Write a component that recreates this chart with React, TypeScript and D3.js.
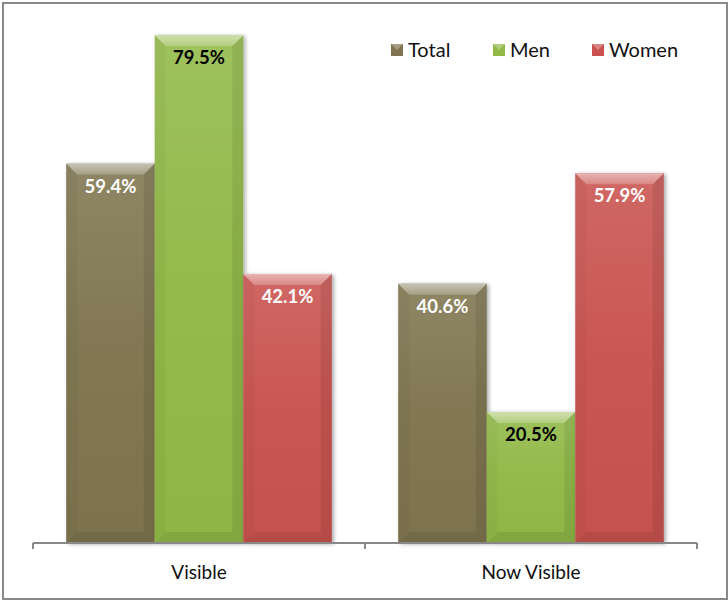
import React from "react";
import * as d3 from "d3";

const categories = ["Visible", "Now Visible"];
const seriesNames = ["Total", "Men", "Women"];
const totalValues = [59.4, 40.6];
const menValues = [79.5, 20.5];
const womenValues = [42.1, 57.9];
const seriesColors = ["#7f7450", "#91b946", "#c9524f"];
const labelColors = ["#ffffff", "#000000", "#ffffff"];

const W = 728;
const H = 600;
const FONT = "Lato, 'Open Sans', sans-serif";

export default function App() {
  const values = [totalValues, menValues, womenValues];
  const x0 = d3.scaleBand<string>().domain(categories).range([33, 697]).paddingInner(0).paddingOuter(0);
  const x1 = d3.scaleBand<string>().domain(seriesNames).range([0, x0.bandwidth()]).paddingOuter(0.375).paddingInner(0);
  const y = d3.scaleLinear().domain([0, 80]).range([543, 32]);
  const b = 11;

  return (
    <svg width={W} height={H} style={{ position: "absolute", left: 0, top: 0 }}>
      <defs>
        <filter id="sh" x="-20%" y="-20%" width="150%" height="150%">
          <feGaussianBlur in="SourceAlpha" stdDeviation="2" />
          <feOffset dx="2" dy="1" result="ob" />
          <feComponentTransfer><feFuncA type="linear" slope="0.35" /></feComponentTransfer>
          <feMerge><feMergeNode /><feMergeNode in="SourceGraphic" /></feMerge>
        </filter>
        <linearGradient id="topg" x1="0" y1="0" x2="0" y2="1">
          <stop offset="0" stopColor="#fff" stopOpacity="0.5" />
          <stop offset="1" stopColor="#fff" stopOpacity="0.22" />
        </linearGradient>
        <linearGradient id="faceg" x1="0" y1="0" x2="0" y2="1">
          <stop offset="0" stopColor="#fff" stopOpacity="0.12" />
          <stop offset="0.5" stopColor="#fff" stopOpacity="0.02" />
          <stop offset="1" stopColor="#000" stopOpacity="0.02" />
        </linearGradient>
      </defs>
      <rect x={0} y={0} width={W} height={H} fill="#fff" />
      <rect x={3} y={3} width={W - 4} height={H - 4} fill="none" stroke="#888" strokeWidth={2} />
      {categories.map((c, ci) => (
        <g key={c}>
          {seriesNames.map((s, si) => {
            const v = values[si][ci];
            const bx = (x0(c) as number) + (x1(s) as number);
            const bw = x1.bandwidth();
            const by = y(v);
            const by1 = y(0);
            return (
              <g key={s}>
                <rect x={bx} y={by} width={bw} height={by1 - by} fill={seriesColors[si]} filter="url(#sh)" />
                <rect x={bx} y={by} width={bw} height={by1 - by} fill="url(#faceg)" />
                <polygon points={`${bx},${by} ${bx + bw},${by} ${bx + bw - b},${by + b} ${bx + b},${by + b}`} fill="url(#topg)" />
                <polygon points={`${bx},${by} ${bx + b},${by + b} ${bx + b},${by1 - b} ${bx},${by1}`} fill="#000" fillOpacity={0.03} />
                <polygon points={`${bx + bw},${by} ${bx + bw - b},${by + b} ${bx + bw - b},${by1 - b} ${bx + bw},${by1}`} fill="#000" fillOpacity={0.08} />
                <polygon points={`${bx},${by1} ${bx + b},${by1 - b} ${bx + bw - b},${by1 - b} ${bx + bw},${by1}`} fill="#000" fillOpacity={0.08} />
                <text x={bx + bw / 2} y={by + 29} textAnchor="middle" fontFamily={FONT} fontWeight="bold" fontSize={18.5} fill={labelColors[si]}>
                  {v.toFixed(1)}%
                </text>
              </g>
            );
          })}
          <text x={(x0(c) as number) + x0.bandwidth() / 2} y={579} textAnchor="middle" fontFamily={FONT} fontSize={19} fill="#111">
            {c}
          </text>
        </g>
      ))}
      <line x1={33} x2={697} y1={y(0)} y2={y(0)} stroke="#888" strokeWidth={2} />
      {[33, 33 + x0.step(), 697].map((t, i) => (
        <line key={i} x1={t} x2={t} y1={y(0)} y2={y(0) + 6} stroke="#888" strokeWidth={2} />
      ))}
      {seriesNames.map((s, si) => {
        const lx = [391, 493, 592][si];
        return (
          <g key={s}>
            <rect x={lx} y={44} width={12} height={12} fill={seriesColors[si]} />
            <polygon points={`${lx},44 ${lx + 12},44 ${lx + 6},50`} fill="#fff" fillOpacity={0.3} />
            <text x={lx + 17} y={57} fontFamily={FONT} fontSize={20} fill="#111">{s}</text>
          </g>
        );
      })}
    </svg>
  );
}
